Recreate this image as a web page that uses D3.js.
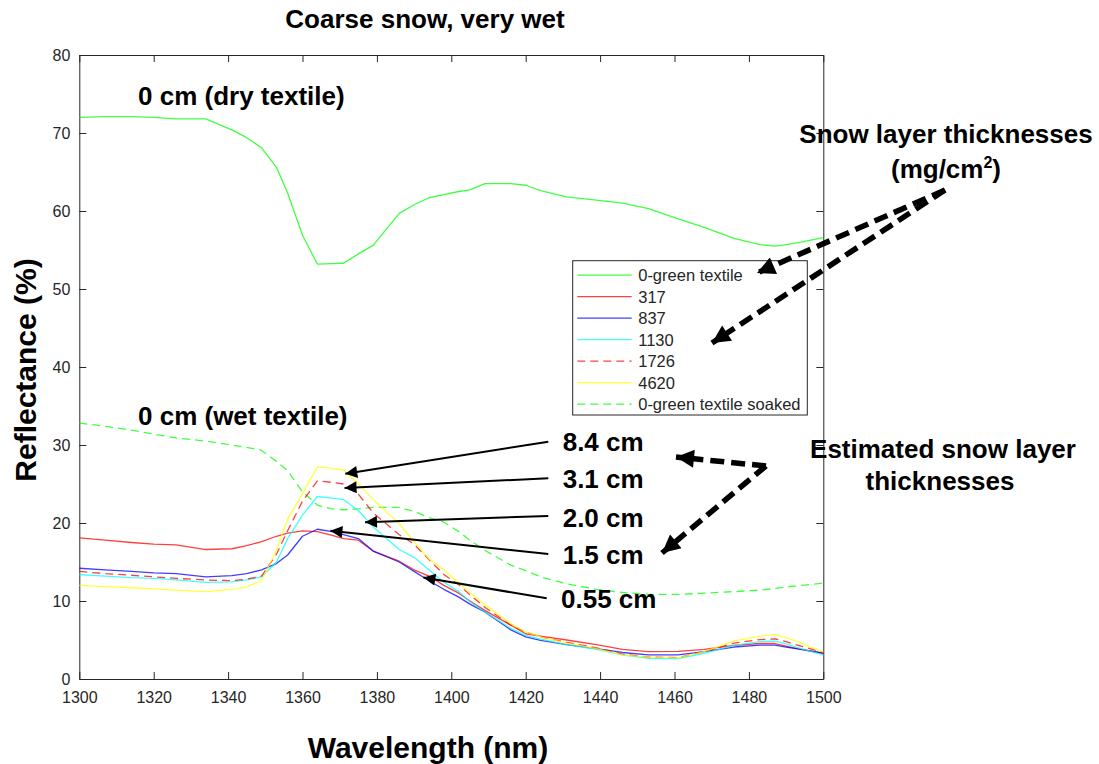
<!DOCTYPE html>
<html>
<head>
<meta charset="utf-8">
<script src="https://cdn.jsdelivr.net/npm/d3@7"></script>
<style>
  body { margin: 0; background: #fff; }
  svg { display: block; font-family: "Liberation Sans", Arial, sans-serif; }
</style>
</head>
<body>
<svg id="chart" width="1099" height="764"></svg>
<script>
// Wavelength grid (nm)
const wavelengths = [1300, 1307, 1314, 1320, 1326, 1334, 1341, 1345, 1349, 1353, 1356, 1360, 1364, 1368, 1371, 1375, 1379, 1386, 1390, 1394, 1398, 1402, 1405, 1409, 1416, 1420, 1424, 1431, 1439, 1446, 1453, 1461, 1468, 1476, 1483, 1487, 1490, 1494, 1500];

// Reflectance (%) for each snow layer (mg/cm2)
const dryTextile = [72.0, 72.1, 72.1, 72.0, 71.8, 71.8, 70.4, 69.4, 68.1, 65.6, 62.3, 56.9, 53.2, 53.25, 53.3, 54.5, 55.6, 59.7, 60.8, 61.7, 62.1, 62.5, 62.7, 63.5, 63.5, 63.3, 62.6, 61.8, 61.4, 61.0, 60.3, 59.0, 57.9, 56.5, 55.7, 55.5, 55.7, 56.0, 56.6];
const s317 = [18.1, 17.8, 17.5, 17.3, 17.2, 16.6, 16.7, 17.1, 17.6, 18.3, 18.7, 19.0, 18.9, 18.4, 18.0, 17.8, 16.4, 15.1, 14.0, 13.2, 12.0, 11.0, 10.0, 8.8, 6.9, 5.8, 5.5, 5.0, 4.4, 3.8, 3.5, 3.55, 3.8, 4.3, 4.55, 4.55, 4.2, 3.8, 3.3];
const s837 = [14.2, 14.0, 13.8, 13.6, 13.5, 13.1, 13.25, 13.5, 14.0, 14.8, 15.9, 18.3, 19.2, 18.9, 18.5, 18.0, 16.4, 15.0, 13.8, 12.6, 11.5, 10.5, 9.6, 8.6, 6.3, 5.4, 4.95, 4.4, 3.9, 3.4, 3.1, 3.1, 3.5, 4.1, 4.35, 4.35, 4.1, 3.8, 3.3];
const s1130 = [13.4, 13.2, 13.0, 12.9, 12.7, 12.4, 12.45, 12.7, 13.1, 15.0, 18.0, 21.0, 23.4, 23.2, 23.0, 21.6, 19.5, 16.6, 15.6, 14.0, 12.4, 11.2, 9.9, 8.6, 6.5, 5.6, 5.1, 4.4, 3.8, 3.1, 2.65, 2.6, 3.3, 4.3, 4.8, 4.85, 4.5, 3.9, 3.1];
const s1726 = [13.8, 13.5, 13.3, 13.1, 12.9, 12.7, 12.6, 12.8, 13.2, 16.0, 19.0, 22.8, 25.4, 25.2, 25.0, 23.7, 21.3, 18.5, 17.3, 15.3, 13.4, 12.1, 10.8, 9.2, 6.9, 6.0, 5.4, 4.7, 4.0, 3.2, 2.8, 2.75, 3.5, 4.6, 5.05, 5.15, 4.8, 4.2, 3.4];
const s4620 = [12.0, 11.85, 11.7, 11.55, 11.4, 11.2, 11.5, 11.8, 12.6, 16.5, 20.5, 23.8, 27.2, 27.0, 26.8, 25.0, 23.0, 19.9, 17.6, 15.4, 14.0, 12.3, 11.1, 9.5, 7.1, 6.0, 5.4, 4.6, 3.9, 3.1, 2.8, 2.7, 3.5, 4.9, 5.5, 5.7, 5.3, 4.6, 3.45];
const soakedTextile = [32.8, 32.4, 31.9, 31.4, 30.9, 30.5, 30.0, 29.7, 29.3, 27.9, 26.7, 24.0, 22.3, 21.8, 21.7, 21.8, 22.0, 22.0, 21.5, 20.7, 20.1, 18.9, 17.8, 16.5, 14.6, 13.9, 13.1, 12.2, 11.5, 11.1, 10.85, 10.85, 11.0, 11.2, 11.4, 11.6, 11.8, 12.0, 12.3];

// Legend entries, in drawing order
const seriesNames = ["0-green textile", "317", "837", "1130", "1726", "4620", "0-green textile soaked"];
const seriesValues = [dryTextile, s317, s837, s1130, s1726, s4620, soakedTextile];
const seriesColors = ["#00ff00", "#ff0000", "#0000ff", "#00ffff", "#ff0000", "#ffff00", "#00ff00"];
const seriesDashed = [false, false, false, false, true, false, true];

// Axis ticks
const xTicks = [1300, 1320, 1340, 1360, 1380, 1400, 1420, 1440, 1460, 1480, 1500];
const yTicks = [0, 10, 20, 30, 40, 50, 60, 70, 80];

// Estimated thickness labels and the wavelength/reflectance each one points at
const thicknessLabels = ["8.4 cm", "3.1 cm", "2.0 cm", "1.5 cm", "0.55 cm"];
const thicknessTargets = [[1371.5, 26.3], [1371.3, 24.5], [1376.8, 20.1], [1367.5, 19.0], [1392.5, 13.0]];

const svg = d3.select("#chart");
const x = d3.scaleLinear().domain([1300, 1500]).range([79.3, 823.3]);
const y = d3.scaleLinear().domain([0, 80]).range([679, 55]);
const axisColor = "#262626";

// Markers for the arrow heads
const defs = svg.append("defs");
defs.append("marker")
  .attr("id", "headSmall").attr("viewBox", "0 -5 10 10")
  .attr("refX", 10).attr("refY", 0)
  .attr("markerUnits", "userSpaceOnUse")
  .attr("markerWidth", 15).attr("markerHeight", 12)
  .attr("orient", "auto")
  .append("path").attr("d", "M0,-5L10,0L0,5Z").attr("fill", "#000");
defs.append("marker")
  .attr("id", "headBig").attr("viewBox", "0 -5 10 10")
  .attr("refX", 10).attr("refY", 0)
  .attr("markerUnits", "userSpaceOnUse")
  .attr("markerWidth", 22).attr("markerHeight", 18)
  .attr("orient", "auto")
  .append("path").attr("d", "M0,-5L10,0L0,5Z").attr("fill", "#000");

// Axes box with inward ticks
function styleAxis(g) {
  g.selectAll("path.domain").attr("stroke", axisColor).attr("stroke-width", 1);
  g.selectAll(".tick line").attr("stroke", axisColor);
  g.selectAll(".tick text").attr("fill", axisColor)
    .style("font-family", "'Liberation Sans', Arial, sans-serif").style("font-size", "16px");
}
svg.append("g").attr("transform", `translate(0,${y(0)})`)
  .call(d3.axisBottom(x).tickValues(xTicks).tickFormat(d3.format("d"))
    .tickSizeInner(-7).tickSizeOuter(0).tickPadding(13))
  .call(styleAxis);
svg.append("g").attr("transform", `translate(0,${y(80)})`)
  .call(d3.axisTop(x).tickValues(xTicks).tickSizeInner(-7).tickSizeOuter(0).tickFormat(""))
  .call(styleAxis);
svg.append("g").attr("transform", `translate(${x(1300)},0)`)
  .call(d3.axisLeft(y).tickValues(yTicks).tickFormat(d3.format("d"))
    .tickSizeInner(-7).tickSizeOuter(0).tickPadding(9))
  .call(styleAxis);
svg.append("g").attr("transform", `translate(${x(1500)},0)`)
  .call(d3.axisRight(y).tickValues(yTicks).tickSizeInner(-7).tickSizeOuter(0).tickFormat(""))
  .call(styleAxis);

// Spectra
const line = d3.line().x((d, i) => x(wavelengths[i])).y(d => y(d));
const drawOrder = [6, 0, 1, 2, 3, 4, 5];
drawOrder.forEach(k => {
  svg.append("path")
    .datum(seriesValues[k])
    .attr("d", line)
    .attr("fill", "none")
    .attr("stroke", seriesColors[k])
    .attr("stroke-width", 1.3)
    .attr("stroke-opacity", 0.75)
    .attr("stroke-linejoin", "round")
    .attr("stroke-dasharray", seriesDashed[k] ? "8,5" : null);
});

// Legend
const lg = svg.append("g").attr("transform", "translate(572.7,260.7)");
lg.append("rect").attr("width", 234.6).attr("height", 154.3)
  .attr("fill", "#fff").attr("stroke", axisColor).attr("stroke-width", 1);
seriesNames.forEach((name, i) => {
  const ry = 14.5 + i * 21.5;
  lg.append("line").attr("x1", 4.6).attr("x2", 59).attr("y1", ry).attr("y2", ry)
    .attr("stroke", seriesColors[i]).attr("stroke-width", 1.3).attr("stroke-opacity", 0.75)
    .attr("stroke-dasharray", seriesDashed[i] ? "8,5" : null);
  lg.append("text").attr("x", 65.5).attr("y", ry + 6)
    .attr("font-size", 16.5).attr("fill", axisColor).text(name);
});

// Title and axis labels
svg.append("text").attr("x", 425).attr("y", 28).attr("text-anchor", "middle")
  .attr("font-weight", "bold").attr("font-size", 26).attr("fill", "#000")
  .text("Coarse snow, very wet");
svg.append("text").attr("x", 428).attr("y", 758).attr("text-anchor", "middle")
  .attr("font-weight", "bold").attr("font-size", 30).attr("fill", "#000")
  .text("Wavelength (nm)");
svg.append("text").attr("transform", "translate(36,370) rotate(-90)").attr("text-anchor", "middle")
  .attr("font-weight", "bold").attr("font-size", 30).attr("fill", "#000")
  .text("Reflectance (%)");

// Curve annotations
const bold = (sel) => sel.attr("font-weight", "bold").attr("fill", "#000");
svg.append("text").attr("x", 138).attr("y", 105).attr("font-size", 26).call(bold).text("0 cm (dry textile)");
svg.append("text").attr("x", 138).attr("y", 425).attr("font-size", 26).call(bold).text("0 cm (wet textile)");

svg.append("text").attr("x", 946).attr("y", 143).attr("text-anchor", "middle")
  .attr("font-size", 26).call(bold).text("Snow layer thicknesses");
const mg = svg.append("text").attr("x", 946).attr("y", 178).attr("text-anchor", "middle")
  .attr("font-size", 26).call(bold);
mg.append("tspan").text("(mg/cm");
mg.append("tspan").attr("font-size", 16).attr("dy", -10).text("2");
mg.append("tspan").attr("dy", 10).text(")");

svg.append("text").attr("x", 943).attr("y", 458).attr("text-anchor", "middle")
  .attr("font-size", 26).call(bold).text("Estimated snow layer");
svg.append("text").attr("x", 940).attr("y", 490).attr("text-anchor", "middle")
  .attr("font-size", 26).call(bold).text("thicknesses");

// Thickness labels with arrows pointing at the curves
const labelBaselines = [451, 488, 526.5, 564, 608];
const arrowStarts = [441.7, 478.3, 516, 554, 598.3];
thicknessLabels.forEach((t, i) => {
  svg.append("text").attr("x", i === 4 ? 561 : 562.7).attr("y", labelBaselines[i])
    .attr("font-size", 26).call(bold).text(t);
  svg.append("line")
    .attr("x1", i === 4 ? 546.7 : 548.3).attr("y1", arrowStarts[i])
    .attr("x2", x(thicknessTargets[i][0])).attr("y2", y(thicknessTargets[i][1]))
    .attr("stroke", "#000").attr("stroke-width", 2)
    .attr("marker-end", "url(#headSmall)");
});

// Thick dashed pointer arrows
const dashedArrows = [
  [945, 190, 757, 273],
  [945, 190, 712, 343],
  [766, 466, 676, 457],
  [766, 466, 662, 553]
];
dashedArrows.forEach(a => {
  svg.append("line").attr("x1", a[0]).attr("y1", a[1]).attr("x2", a[2]).attr("y2", a[3])
    .attr("stroke", "#000").attr("stroke-width", 5.5).attr("stroke-dasharray", "14,7")
    .attr("marker-end", "url(#headBig)");
});
</script>
</body>
</html>
